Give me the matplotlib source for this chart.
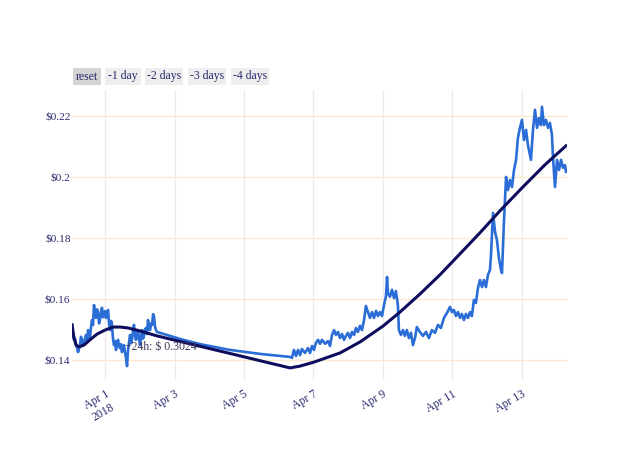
import matplotlib
matplotlib.use("Agg")
import matplotlib.pyplot as plt
from matplotlib.patches import Rectangle
import pandas as pd

plt.rcParams['font.family'] = ['Liberation Serif', 'DejaVu Serif']

# hours since 2018-03-31 00:00 and price in USD
price_hours = [
    1.2, 1.9, 2.6, 3.3, 4.0, 4.7, 5.4, 6.0, 6.7, 7.4, 8.1, 8.8, 9.5, 10.2, 10.9,
    11.6, 12.3, 13.0, 13.6, 14.3, 15.0, 15.7, 16.4, 17.1, 17.8, 18.5, 19.2, 19.9,
    20.5, 21.2, 21.9, 22.6, 23.3, 24.0, 24.7, 25.4, 26.1, 26.8, 27.5, 28.2, 28.8,
    29.5, 30.2, 30.9, 31.6, 32.3, 33.0, 33.7, 34.4, 35.0, 35.7, 36.4, 37.1, 37.8,
    38.5, 39.2, 39.9, 40.6, 41.3, 42.0, 42.6, 43.3, 44.0, 44.7, 45.4, 46.1, 46.8,
    47.5, 48.2, 48.9, 49.6, 50.3, 50.9, 51.6, 52.3, 53.0, 53.7, 54.4, 55.1, 55.8,
    56.5, 57.2, 57.8, 58.5, 59.2,
    59.9, 75.8, 89.6, 110.3, 131.0, 151.8,
    153.1, 154.5, 155.9, 157.3, 158.7, 160.0, 162.1, 164.2, 165.6, 167.0, 168.3,
    169.7, 171.1, 172.5, 173.9, 176.0, 178.0, 179.4, 180.8, 182.2, 183.5, 184.9,
    186.3, 187.7, 189.1, 190.4, 191.8, 193.2, 194.6, 196.0, 197.3, 198.7, 200.1,
    201.5, 202.9, 204.2, 205.6, 207.0, 208.4, 209.8, 211.2, 212.5, 213.9, 215.3,
    216.7, 218.1, 218.8, 219.4, 220.8, 222.2, 223.6, 224.9, 226.3, 227.0, 228.4,
    229.8, 231.1, 232.5, 233.9, 235.3, 236.7, 238.1, 239.4, 241.5, 243.6, 245.7,
    247.7, 249.8, 251.9, 254.0, 256.0, 258.1, 260.2, 262.3, 263.6, 265.0, 266.4,
    267.8, 269.2, 270.5, 271.9, 273.3, 274.7, 276.1, 277.4, 278.8, 280.2, 281.6,
    283.0, 284.4, 285.7, 287.1, 288.5, 289.9, 290.6, 292.0, 293.4, 294.7, 296.1,
    297.5, 298.2, 299.6, 301.0, 302.3, 303.7, 305.1, 306.5, 307.9, 309.2, 310.6,
    312.0, 313.4, 314.8, 316.1, 317.5, 318.2, 319.6, 321.0, 322.4, 323.7, 325.1,
    325.8, 327.2, 328.6, 330.0, 331.3, 332.7, 333.4, 334.8, 336.2, 337.6, 339.0,
    340.3, 341.7, 342.4,
]
price_values = [
    0.1515, 0.1485, 0.1466, 0.1470, 0.1449, 0.1440, 0.1426, 0.1436, 0.1449, 0.1476,
    0.1466, 0.1448, 0.1456, 0.1470, 0.1482, 0.1465, 0.1498, 0.1480, 0.1472, 0.1505,
    0.1531, 0.1515, 0.1580, 0.1550, 0.1538, 0.1566, 0.1557, 0.1520, 0.1531, 0.1555,
    0.1571, 0.1540, 0.1548, 0.1560, 0.1538, 0.1552, 0.1564, 0.1520, 0.1498, 0.1528,
    0.1515, 0.1470, 0.1449, 0.1462, 0.1433, 0.1455, 0.1466, 0.1445, 0.1439, 0.1452,
    0.1426, 0.1440, 0.1449, 0.1425, 0.1407, 0.1380, 0.1433, 0.1458, 0.1482, 0.1455,
    0.1466, 0.1492, 0.1515, 0.1480, 0.1466, 0.1485, 0.1498, 0.1470, 0.1449, 0.1475,
    0.1498, 0.1470, 0.1482, 0.1500, 0.1505, 0.1485, 0.1531, 0.1505, 0.1498, 0.1520,
    0.1515, 0.1550, 0.1544, 0.1510, 0.1498,
    0.1492, 0.1469, 0.1452, 0.1433, 0.1420, 0.1410,
    0.1407, 0.1433, 0.1413, 0.1433, 0.1416, 0.1436, 0.1423, 0.1439, 0.1423, 0.1446,
    0.1433, 0.1456, 0.1466, 0.1453, 0.1466, 0.1453, 0.1462, 0.1446, 0.1482, 0.1498,
    0.1482, 0.1492, 0.1472, 0.1485, 0.1466, 0.1479, 0.1489, 0.1472, 0.1492, 0.1482,
    0.1505, 0.1492, 0.1512, 0.1498, 0.1531, 0.1577, 0.1557, 0.1538, 0.1557, 0.1538,
    0.1561, 0.1544, 0.1557, 0.1544, 0.1580, 0.1610, 0.1672, 0.1620, 0.1607, 0.1630,
    0.1603, 0.1626, 0.1580, 0.1498, 0.1482, 0.1498, 0.1479, 0.1498, 0.1472, 0.1489,
    0.1449, 0.1472, 0.1508, 0.1492, 0.1479, 0.1492, 0.1472, 0.1498, 0.1489, 0.1515,
    0.1505, 0.1538, 0.1554, 0.1574, 0.1557, 0.1564, 0.1544, 0.1557, 0.1538, 0.1551,
    0.1531, 0.1551, 0.1538, 0.1557, 0.1544, 0.1597, 0.1587, 0.1636, 0.1662, 0.1639,
    0.1662, 0.1639, 0.1679, 0.1695, 0.1744, 0.1882, 0.1820, 0.1793, 0.1734, 0.1695,
    0.1685, 0.1859, 0.2000, 0.1957, 0.1990, 0.1967, 0.2023, 0.2056, 0.2128, 0.2161,
    0.2187, 0.2121, 0.2154, 0.2105, 0.2072, 0.2056, 0.2154, 0.2220, 0.2161, 0.2193,
    0.2170, 0.2230, 0.2170, 0.2187, 0.2161, 0.2177, 0.2138, 0.2066, 0.1967, 0.2056,
    0.2023, 0.2056, 0.2030, 0.2039, 0.2017,
]

# trend line (fit)
trend_hours = [1.2, 2.6, 4.0, 6.0, 9.5, 13.6, 18.5, 24.0, 29.5, 34.4, 39.9, 48.2,
               59.9, 151.8, 158.7, 168.3, 186.3, 200.1, 216.0, 227.7, 241.5,
               255.3, 269.2, 283.0, 296.8, 312.0, 327.9, 342.4]
trend_values = [0.1515, 0.1472, 0.1449, 0.1443, 0.1449, 0.1466, 0.1485, 0.1498,
                0.1508, 0.1508, 0.1505, 0.1495, 0.1479, 0.1374, 0.1380, 0.1393,
                0.1423, 0.1459, 0.1511, 0.1557, 0.1616, 0.1679, 0.1748, 0.1817,
                0.1889, 0.1964, 0.2040, 0.2102]

tick_days = ['2018-04-01', '2018-04-03', '2018-04-05', '2018-04-07',
             '2018-04-09', '2018-04-11', '2018-04-13']
tick_labels = ['Apr 1\n2018', 'Apr 3', 'Apr 5', 'Apr 7', 'Apr 9', 'Apr 11', 'Apr 13']
y_ticks = [0.14, 0.16, 0.18, 0.20, 0.22]
y_labels = ['$0.14', '$0.16', '$0.18', '$0.2', '$0.22']
buttons = ['reset', '-1 day', '-2 days', '-3 days', '-4 days']

base = pd.Timestamp('2018-03-31')
t_price = base + pd.to_timedelta(price_hours, unit='h')
t_trend = base + pd.to_timedelta(trend_hours, unit='h')

text_col = '#2a2a6e'

fig = plt.figure(figsize=(6.4, 4.57), dpi=100)
ax = fig.add_axes([72 / 640, 1 - 380 / 457, 495 / 640, 290 / 457])

ax.plot(t_price, price_values, color='#2a6dd6', lw=1.9, zorder=3)
ax.plot(t_trend, trend_values, color='#0e0e5e', lw=2.2, zorder=4)

ax.text(base + pd.Timedelta(hours=37.8), 0.1443, '+24h: $ 0.3024',
        color='#3a3a5a', fontsize=8.5, ha='left', va='center', zorder=5)

ax.set_xlim(base + pd.Timedelta(hours=1.2), base + pd.Timedelta(hours=343.1))
ax.set_ylim(0.13344, 0.2285)

ax.set_xticks([pd.Timestamp(d) for d in tick_days])
ax.set_xticklabels(tick_labels, rotation=30, ha='right', rotation_mode='anchor',
                   multialignment='center', color=text_col, fontsize=8.5)
ax.set_yticks(y_ticks)
ax.set_yticklabels(y_labels, color=text_col, fontsize=8.2)
ax.tick_params(axis='x', length=0, pad=6)
ax.tick_params(axis='y', length=0, pad=1)

ax.grid(False)
for d in tick_days:
    ax.axvline(pd.Timestamp(d), color='#ebebeb', lw=1, zorder=1)
for v in y_ticks:
    ax.axhline(v, color='#fde8cf', lw=1, zorder=1)
for s in ax.spines.values():
    s.set_visible(False)

# range selector buttons
btn_x = [73, 105, 145, 188, 231]
btn_w = [28, 36, 38, 38, 38]
for i, (label, bx, bw) in enumerate(zip(buttons, btn_x, btn_w)):
    fc = '#d4d4d4' if i == 0 else '#eeeeee'
    fig.patches.append(Rectangle((bx / 640, 1 - 85 / 457), bw / 640, 17 / 457,
                                 transform=fig.transFigure, facecolor=fc,
                                 edgecolor='none'))
    fig.text((bx + bw / 2) / 640, 1 - 76.5 / 457, label, ha='center', va='center',
             color=text_col, fontsize=8.5)

fig.savefig('out.png', dpi=100)
